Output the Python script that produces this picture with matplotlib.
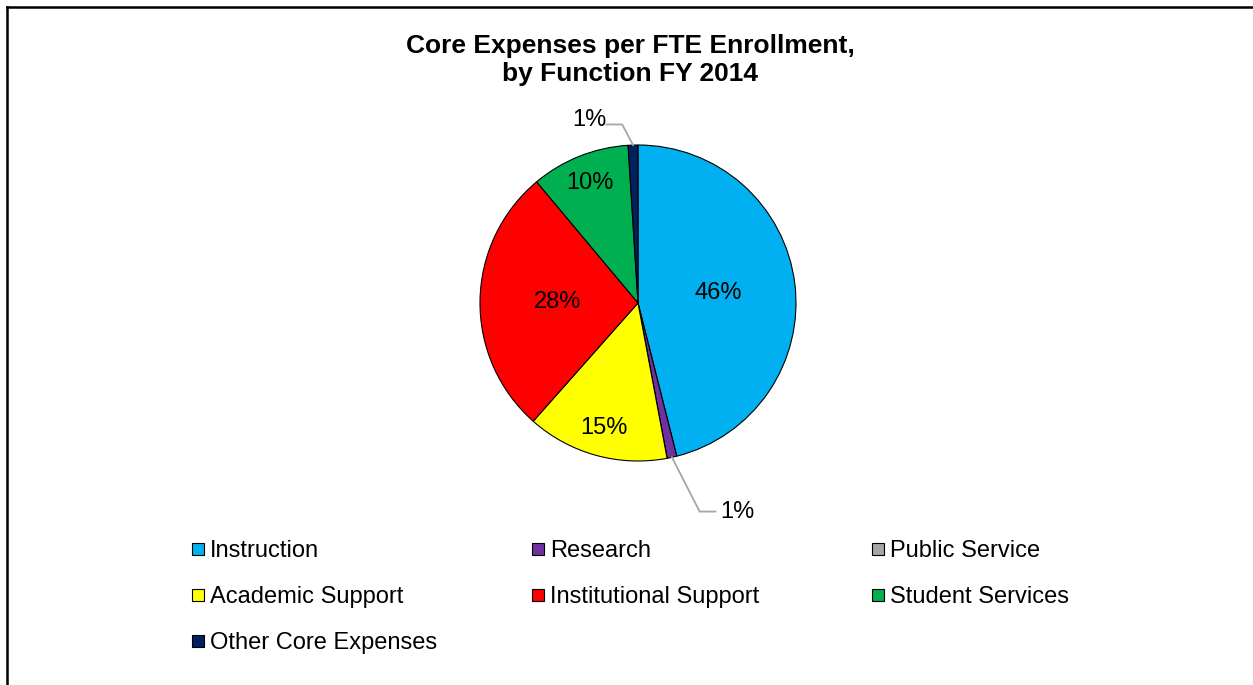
import matplotlib
matplotlib.use("Agg")
import matplotlib.pyplot as plt
import numpy as np
from matplotlib.patches import Rectangle
from matplotlib.lines import Line2D

categories = ["Instruction", "Research", "Public Service", "Academic Support",
              "Institutional Support", "Student Services", "Other Core Expenses"]
values = [46.1, 1.0, 0.0, 14.5, 27.4, 10.1, 1.0]
labels = ["46%", "1%", "", "15%", "28%", "10%", "1%"]
colors = ["#00B0F0", "#7030A0", "#A6A6A6", "#FFFF00", "#FF0000", "#00B050", "#002060"]

plt.rcParams['font.family'] = ['Liberation Sans', 'DejaVu Sans']

W, H = 1253, 685
fig = plt.figure(figsize=(W / 100, H / 100), dpi=100)

cx, cy, r = 638, 303, 158
ax = fig.add_axes([(cx - r) / W, (H - cy - r) / H, 2 * r / W, 2 * r / H])
wedges, _ = ax.pie(values, colors=colors, startangle=90, counterclock=False,
                   wedgeprops=dict(edgecolor="black", linewidth=0.8))
ax.set_xlim(-1, 1)
ax.set_ylim(-1, 1)
ax.set_aspect('equal')
ax.axis('off')

# label distances (inside labels) per slice
dist = [0.51, None, None, 0.82, 0.51, 0.82, None]
total = sum(values)
cum = 0
mids = []
for v in values:
    mid = 90 - (cum + v / 2) / total * 360
    mids.append(mid)
    cum += v
for i, (lab, d) in enumerate(zip(labels, dist)):
    if d is None or not lab:
        continue
    a = np.deg2rad(mids[i])
    ax.text(d * np.cos(a), d * np.sin(a), lab, ha='center', va='center', fontsize=17)

# outside labels with leader lines
# Research (bottom)
a = np.deg2rad(mids[1])
ex, ey = np.cos(a), np.sin(a)
ax.plot([ex, 0.39, 0.49], [ey, -1.32, -1.32], color="#A6A6A6", lw=1.3, clip_on=False)
ax.text(0.52, -1.32, labels[1], ha='left', va='center', fontsize=17)
# Other (top)
a = np.deg2rad(mids[6])
ex, ey = np.cos(a), np.sin(a)
ax.plot([ex, -0.10, -0.20], [ey, 1.13, 1.13], color="#A6A6A6", lw=1.3, clip_on=False)
ax.text(-0.20, 1.16, labels[6], ha='right', va='center', fontsize=17)

# title
fig.text(630 / W, 1 - 60 / H, "Core Expenses per FTE Enrollment,\nby Function FY 2014",
         ha='center', va='center', fontsize=19, fontweight='bold', linespacing=1.26)

# legend (row-major, 3 columns)
x0, y0, dx, dy = 192, 549, 340, 46
ms = 12
for i, (c, name) in enumerate(zip(colors, categories)):
    row, col = divmod(i, 3)
    x = x0 + col * dx
    y = y0 + row * dy
    fig.add_artist(Rectangle((x / W, (H - y - ms / 2) / H), ms / W, ms / H,
                             facecolor=c, edgecolor="black", linewidth=0.8,
                             transform=fig.transFigure))
    fig.text((x + ms + 6) / W, (H - y - 8) / H, name, ha='left', va='baseline', fontsize=17)

# border (left and top visible)
fig.add_artist(Line2D([6.5 / W, 6.5 / W], [0, 1 - 6.5 / H], color="black", lw=1.8,
                      transform=fig.transFigure))
fig.add_artist(Line2D([6.5 / W, 1], [1 - 6.5 / H, 1 - 6.5 / H], color="black", lw=1.8,
                      transform=fig.transFigure))

fig.savefig("out.png", dpi=100)
